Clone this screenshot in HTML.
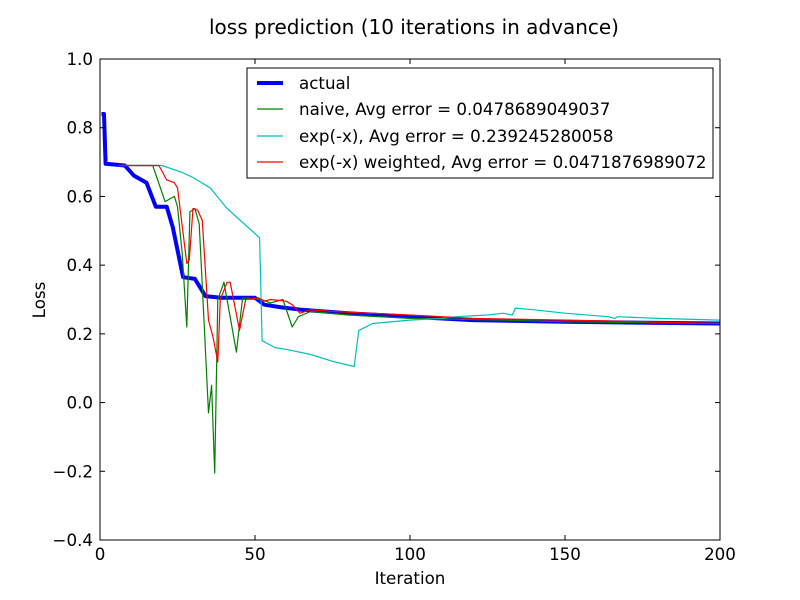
<!DOCTYPE html>
<html><head><meta charset="utf-8"><style>
html,body{margin:0;padding:0;background:#fff;}
svg{display:block;font-family:"DejaVu Sans","Liberation Sans",sans-serif;}
</style></head><body>
<svg id="chart" width="800" height="600">
<rect width="800" height="600" fill="#fff"/>
<text x="414" y="34" text-anchor="middle" font-size="20">loss prediction (10 iterations in advance)</text>
<g id="series"></g>
<rect x="100" y="59" width="620" height="481" fill="none" stroke="#000" stroke-width="1"/>
<g id="ticks"></g>
<text x="410" y="584" text-anchor="middle" font-size="16.7">Iteration</text>
<text x="45" y="300" text-anchor="middle" font-size="16.7" transform="rotate(-90 45 300)">Loss</text>
<g>
<rect x="247" y="68" width="466" height="110" fill="#fff" stroke="#000" stroke-width="1"/>
<line x1="257" y1="83" x2="283" y2="83" stroke="#0000ff" stroke-width="4"/>
<text x="299" y="89" font-size="16.7">actual</text>
<line x1="257" y1="109" x2="283" y2="109" stroke="#008000" stroke-width="1.2"/>
<text x="299" y="115" font-size="16.7">naive, Avg error = 0.0478689049037</text>
<line x1="257" y1="136" x2="283" y2="136" stroke="#00bfbf" stroke-width="1.2"/>
<text x="299" y="142" font-size="16.7">exp(-x), Avg error = 0.239245280058</text>
<line x1="257" y1="162" x2="283" y2="162" stroke="#ff0000" stroke-width="1.2"/>
<text x="299" y="168" font-size="16.7">exp(-x) weighted, Avg error = 0.0471876989072</text>
</g>
</svg>
<script>
const xTicks=[0,50,100,150,200];
const yTicks=[-0.4,-0.2,0.0,0.2,0.4,0.6,0.8,1.0];
const yTickLabels=["\u22120.4","\u22120.2","0.0","0.2","0.4","0.6","0.8","1.0"];
const actualX=[0.5,1.3,1.8,8,11,15,18,21.5,23.5,26.8,30.6,34,39,50,53,58,65,80,100,120,150,200];
const actualY=[0.84,0.84,0.695,0.69,0.66,0.64,0.57,0.57,0.51,0.365,0.36,0.31,0.305,0.305,0.285,0.278,0.27,0.26,0.25,0.24,0.235,0.23];
const naiveX=[6,17,21,24,25,26.5,28,29,30.6,32,33,35,36,37,38,40,44,46,52,55,59,62,64,68,80,100,130,150,200];
const naiveY=[0.69,0.69,0.585,0.60,0.57,0.435,0.22,0.555,0.565,0.52,0.34,-0.03,0.05,-0.205,0.30,0.35,0.147,0.305,0.30,0.29,0.30,0.22,0.25,0.265,0.255,0.245,0.24,0.235,0.23];
const expX=[6,20,26.5,30,35.5,41,51.5,52.3,56.5,60,68,75,82,83.5,88,100,110,115,125,130,133,134,140,150,164,166,167,180,200];
const expY=[0.69,0.69,0.67,0.655,0.625,0.565,0.48,0.18,0.16,0.155,0.14,0.12,0.105,0.21,0.23,0.24,0.245,0.25,0.255,0.26,0.255,0.275,0.27,0.26,0.25,0.245,0.25,0.245,0.24];
const weightedX=[6,19,21.5,24,25,28,28.8,30,31.5,33,35,36.5,38,38.8,41,42,45,47,51,53,55,60,62,64.5,68,75,100,120,150,200];
const weightedY=[0.69,0.69,0.648,0.64,0.625,0.405,0.415,0.565,0.56,0.53,0.24,0.19,0.118,0.30,0.35,0.35,0.21,0.30,0.305,0.295,0.30,0.295,0.285,0.26,0.27,0.265,0.255,0.245,0.24,0.23];
const X0=100,X1=720,Y0=540,Y1=59;
function sx(v){return X0+(v-0)/(200-0)*(X1-X0);}
function sy(v){return Y0-(v-(-0.4))/(1.0-(-0.4))*(Y0-Y1);}
const NS="http://www.w3.org/2000/svg";
const sg=document.getElementById('series');
function draw(xs,ys,color,w,name){
  const p=document.createElementNS(NS,'polyline');
  p.setAttribute('points',xs.map((x,i)=>sx(x).toFixed(1)+','+sy(ys[i]).toFixed(1)).join(' '));
  p.setAttribute('fill','none');p.setAttribute('stroke',color);p.setAttribute('stroke-width',w);
  p.setAttribute('stroke-linejoin','round');
  
  
  sg.appendChild(p);
}
draw(actualX,actualY,'#0000ff',4,'actual-line');
draw(naiveX,naiveY,'#008000',1.2,'naive-line');
draw(expX,expY,'#00bfbf',1.2,'exp-line');
draw(weightedX,weightedY,'#ff0000',1.2,'weighted-line');
const tg=document.getElementById('ticks');
function ln(x1,y1,x2,y2){const l=document.createElementNS(NS,'line');l.setAttribute('x1',x1);l.setAttribute('y1',y1);l.setAttribute('x2',x2);l.setAttribute('y2',y2);l.setAttribute('stroke','#000');tg.appendChild(l);}
xTicks.forEach(v=>{
  const x=sx(v);ln(x,Y0,x,Y0-5);ln(x,Y1,x,Y1+5);
  const t=document.createElementNS(NS,'text');t.setAttribute('x',x);t.setAttribute('y',560);t.setAttribute('text-anchor','middle');t.setAttribute('font-size','16.7');t.textContent=v;
  
  
  tg.appendChild(t);
});
yTicks.forEach((v,i)=>{
  const y=sy(v);ln(X0,y,X0+5,y);ln(X1,y,X1-5,y);
  const t=document.createElementNS(NS,'text');t.setAttribute('x',93);t.setAttribute('y',y+6);t.setAttribute('text-anchor','end');t.setAttribute('font-size','16.7');t.textContent=yTickLabels[i];
  
  
  tg.appendChild(t);
});
</script>
</body></html>
